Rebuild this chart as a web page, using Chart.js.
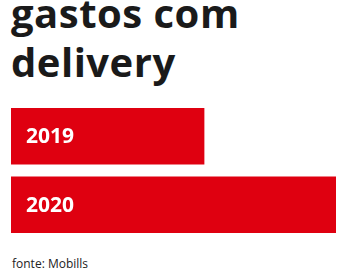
<!DOCTYPE html>
<html>
<head>
<meta charset="utf-8">
<script src="https://cdn.jsdelivr.net/npm/chart.js@4/dist/chart.umd.min.js"></script>
<style>
  html, body { margin: 0; padding: 0; background: #fff; }
  body { width: 343px; height: 278px; position: relative; overflow: hidden; font-family: 'Open Sans', sans-serif; }
  #title { position: absolute; left: 11px; top: -12px; font-size: 40px; font-weight: 700; line-height: 49px; color: #1a1a1a; letter-spacing: 0.5px; }
  #chartBox { position: absolute; left: 11px; top: 102px; width: 325px; height: 137px; }
  #fonte { position: absolute; left: 12px; top: 255px; font-size: 12px; color: #222; }
</style>
</head>
<body>
<div id="title">gastos com<br>delivery</div>
<div id="chartBox"><canvas id="myChart"></canvas></div>
<div id="fonte">fonte: Mobills</div>
<script>
// setup
const years = ['2019', '2020'];
const spending = [59.4, 100]; // relativo, 2020 = 100
const barColor = '#df0010';

// rótulos dentro das barras
const barLabels = {
  id: 'barLabels',
  afterDatasetsDraw(chart) {
    const {ctx, scales: {x, y}} = chart;
    ctx.save();
    ctx.font = 'bold 21px "Open Sans"';
    ctx.fillStyle = '#ffffff';
    ctx.textAlign = 'left';
    ctx.textBaseline = 'middle';
    chart.data.labels.forEach((label, i) => {
      ctx.fillText(label, x.getPixelForValue(0) + 15, y.getPixelForValue(i) + 1);
    });
    ctx.restore();
  }
};

const myChart = new Chart(document.getElementById('myChart'), {
  type: 'bar',
  data: {
    labels: years,
    datasets: [{
      data: spending,
      backgroundColor: barColor,
      borderWidth: 0,
      barThickness: 56
    }]
  },
  options: {
    indexAxis: 'y',
    responsive: true,
    maintainAspectRatio: false,
    animation: false,
    layout: { padding: 0 },
    plugins: { legend: { display: false }, tooltip: { enabled: false } },
    scales: {
      x: { display: false, min: 0, max: 100 },
      y: { display: false }
    }
  },
  plugins: [barLabels]
});
</script>
</body>
</html>
